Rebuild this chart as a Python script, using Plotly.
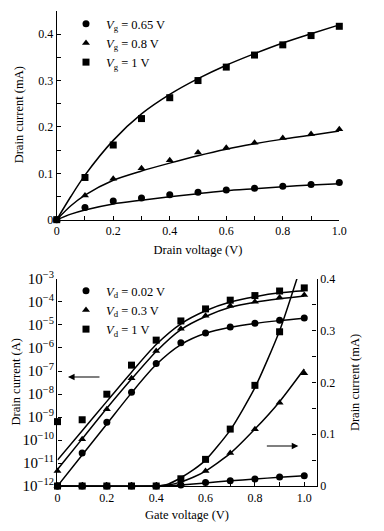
import plotly.graph_objects as go

# ---------------- data: top panel (output characteristics) ----------------
vd = [0, 0.1, 0.2, 0.3, 0.4, 0.5, 0.6, 0.7, 0.8, 0.9, 1.0]
id_vg065 = [0, 0.026, 0.040, 0.047, 0.054, 0.059, 0.064, 0.068, 0.072, 0.076, 0.080]
id_vg08 = [0, 0.052, 0.088, 0.111, 0.128, 0.145, 0.155, 0.166, 0.176, 0.185, 0.195]
id_vg1 = [0, 0.091, 0.161, 0.218, 0.263, 0.300, 0.329, 0.355, 0.377, 0.397, 0.417]

fit_vd = [0, 0.05, 0.1, 0.2, 0.3, 0.4, 0.5, 0.6, 0.7, 0.8, 0.9, 1.0]
fit_vg065 = [0, 0.012, 0.021, 0.034, 0.042, 0.0495, 0.056, 0.0625, 0.0668, 0.071, 0.0747, 0.0775]
fit_vg08 = [0, 0.030, 0.053, 0.085, 0.105, 0.122, 0.138, 0.152, 0.1635, 0.1737, 0.182, 0.191]
fit_vg1 = [0, 0.050, 0.096, 0.171, 0.228, 0.270, 0.304, 0.333, 0.358, 0.381, 0.401, 0.420]

# ---------------- data: bottom panel (transfer characteristics) ----------------
vg = [0, 0.1, 0.2, 0.3, 0.4, 0.5, 0.6, 0.7, 0.8, 0.9, 1.0]
# log scale (A)
log_vd002 = [1e-12, 2.7e-11, 5.9e-10, 1.2e-8, 2.1e-7, 1.7e-6, 4.5e-6, 8.2e-6, 1.2e-5, 1.6e-5, 2.0e-5]
log_vd03 = [4.5e-12, 1.07e-10, 2.2e-9, 4.8e-8, 7.4e-7, 6.9e-6, 2.5e-5, 6.9e-5, 1.03e-4, 1.55e-4, 2.0e-4]
log_vd1 = [6.3e-10, 7.6e-10, 9.8e-9, 1.8e-7, 2.2e-6, 1.5e-5, 5.0e-5, 1.2e-4, 1.9e-4, 3.0e-4, 4.1e-4]
# fitted curves, log10(A)
fitlog_vd002 = [-12.0, -10.65, -9.3, -7.95, -6.72, -5.85, -5.36, -5.1, -4.93, -4.81, -4.71]
fitlog_vd03 = [-11.28, -9.95, -8.62, -7.35, -6.15, -5.2, -4.63, -4.23, -4.01, -3.86, -3.74]
fitlog_vd1 = [-10.87, -9.6, -8.32, -7.05, -5.85, -4.95, -4.38, -4.0, -3.77, -3.6, -3.51]
# linear scale (mA)
lin_vd002 = [0, 0, 0, 0, 0, 0.002, 0.007, 0.010, 0.0135, 0.0174, 0.020]
lin_vd03 = [0, 0, 0, 0, 0, 0.005, 0.029, 0.064, 0.1095, 0.161, 0.218]
lin_vd1 = [0, 0, 0, 0, 0, 0.014, 0.0515, 0.110, 0.1945, 0.298, None]
fit_vg_lin = [0, 0.4, 0.45, 0.5, 0.55, 0.6, 0.7, 0.8, 0.9, 1.0]
fitlin_vd002 = [0, 0, 0.0005, 0.002, 0.004, 0.006, 0.010, 0.0135, 0.017, 0.020]
fitlin_vd03 = [0, 0, 0.002, 0.008, 0.017, 0.029, 0.063, 0.110, 0.163, 0.226]
fitlin_vd1 = [0, 0, 0.004, 0.016, 0.031, 0.050, 0.108, 0.190, 0.300, 0.445]

top_names = ["<i>V</i><sub>g</sub> = 0.65 V", "<i>V</i><sub>g</sub> = 0.8 V", "<i>V</i><sub>g</sub> = 1 V"]
bot_names = ["<i>V</i><sub>d</sub> = 0.02 V", "<i>V</i><sub>d</sub> = 0.3 V", "<i>V</i><sub>d</sub> = 1 V"]
symbols = ["circle", "triangle-up", "square"]

FONT = "Liberation Serif"
BLACK = "#000000"
LW = 1.5
MS = 7

fig = go.Figure()

# ---- top panel ----
for fy in [fit_vg065, fit_vg08, fit_vg1]:
    fig.add_trace(go.Scatter(x=fit_vd, y=fy, mode="lines", line=dict(color=BLACK, width=LW, shape="spline", smoothing=0.8),
                             showlegend=False, hoverinfo="skip", xaxis="x", yaxis="y"))
for yv, nm, sym in zip([id_vg065, id_vg08, id_vg1], top_names, symbols):
    fig.add_trace(go.Scatter(x=vd, y=yv, mode="markers", name=nm, marker=dict(symbol=sym, size=MS, color=BLACK),
                             cliponaxis=False, legend="legend", xaxis="x", yaxis="y"))

# ---- bottom panel, log axis ----
for fy in [fitlog_vd002, fitlog_vd03, fitlog_vd1]:
    fig.add_trace(go.Scatter(x=vg, y=[10 ** v for v in fy], mode="lines",
                             line=dict(color=BLACK, width=LW, shape="spline", smoothing=0.8),
                             showlegend=False, hoverinfo="skip", xaxis="x2", yaxis="y2"))
for yv, nm, sym in zip([log_vd002, log_vd03, log_vd1], bot_names, symbols):
    fig.add_trace(go.Scatter(x=vg, y=yv, mode="markers", name=nm, marker=dict(symbol=sym, size=MS, color=BLACK),
                             cliponaxis=False, legend="legend2", xaxis="x2", yaxis="y2"))

# ---- bottom panel, linear axis ----
for fy in [fitlin_vd002, fitlin_vd03, fitlin_vd1]:
    fig.add_trace(go.Scatter(x=fit_vg_lin, y=fy, mode="lines",
                             line=dict(color=BLACK, width=LW, shape="spline", smoothing=0.6),
                             showlegend=False, hoverinfo="skip", xaxis="x2", yaxis="y3"))
for yv, sym in zip([lin_vd002, lin_vd03, lin_vd1], symbols):
    fig.add_trace(go.Scatter(x=vg, y=yv, mode="markers", marker=dict(symbol=sym, size=MS, color=BLACK),
                             cliponaxis=False, showlegend=False, xaxis="x2", yaxis="y3"))

axis_common = dict(showline=True, linecolor=BLACK, linewidth=1.3, ticks="inside", ticklen=4, tickwidth=1,
                   tickcolor=BLACK, showgrid=False, zeroline=False, automargin=False,
                   tickfont=dict(family=FONT, size=12, color=BLACK),
                   title_font=dict(family=FONT, size=12.5, color=BLACK))
minor_common = dict(ticks="inside", ticklen=4, tickwidth=1, tickcolor=BLACK, showgrid=False)

TOP_DOM = [0.5863, 0.9793]
BOT_DOM = [0.0847, 0.4746]

fig.update_layout(
    width=384, height=531,
    margin=dict(l=0, r=0, t=0, b=0),
    paper_bgcolor="white", plot_bgcolor="white",
    font=dict(family=FONT, size=12, color=BLACK),
    xaxis=dict(domain=[0.1477, 0.8836], range=[0, 1], anchor="y",
               tickvals=[0, 0.2, 0.4, 0.6, 0.8, 1.0], ticktext=["0", "0.2", "0.4", "0.6", "0.8", "1.0"],
               minor=dict(dtick=0.1, **minor_common),
               title=dict(text="Drain voltage (V)", standoff=8), **axis_common),
    yaxis=dict(domain=TOP_DOM, range=[0, 0.45], anchor="x",
               tickvals=[0, 0.1, 0.2, 0.3, 0.4], ticktext=["0", "0.1", "0.2", "0.3", "0.4"],
               minor=dict(dtick=0.05, **minor_common), **axis_common),
    xaxis2=dict(domain=[0.1497, 0.8245], range=[0, 1.05], anchor="y2",
                tickvals=[0, 0.2, 0.4, 0.6, 0.8, 1.0], ticktext=["0", "0.2", "0.4", "0.6", "0.8", "1.0"],
                minor=dict(tickvals=[0.1, 0.3, 0.5, 0.7, 0.9], **minor_common),
                title=dict(text="Gate voltage (V)", standoff=6), **axis_common),
    yaxis2=dict(domain=BOT_DOM, type="log", range=[-12, -3], anchor="x2",
                dtick=1, exponentformat="power", **axis_common),
    yaxis3=dict(overlaying="y2", side="right", anchor="x2", range=[0, 0.4],
                tickvals=[0, 0.1, 0.2, 0.3, 0.4], ticktext=["0", "0.1", "0.2", "0.3", "0.4"],
                minor=dict(dtick=0.05, **minor_common),
                title=dict(text="Drain current (mA)", standoff=16), **axis_common),
    legend=dict(x=66 / 384, y=1 - 9 / 531, xanchor="left", yanchor="top", bgcolor="rgba(0,0,0,0)",
                font=dict(family=FONT, size=12.5, color=BLACK), itemwidth=30, tracegroupgap=0),
    legend2=dict(x=66 / 384, y=1 - 276 / 531, xanchor="left", yanchor="top", bgcolor="rgba(0,0,0,0)",
                 font=dict(family=FONT, size=12.5, color=BLACK), itemwidth=30, tracegroupgap=0),
)

# left-hand axis titles
fig.add_annotation(x=19 / 384, y=sum(TOP_DOM) / 2, xref="paper", yref="paper", text="Drain current (mA)",
                   textangle=-90, showarrow=False, xanchor="center", yanchor="middle",
                   font=dict(family=FONT, size=12.5, color=BLACK))
fig.add_annotation(x=16 / 384, y=sum(BOT_DOM) / 2, xref="paper", yref="paper", text="Drain current (A)",
                   textangle=-90, showarrow=False, xanchor="center", yanchor="middle",
                   font=dict(family=FONT, size=12.5, color=BLACK))

# arrows pointing to the relevant axis
fig.add_annotation(x=0.0425, y=-7.26, xref="x2", yref="y2", text="", showarrow=True,
                   ax=33, ay=0, arrowhead=2, arrowsize=1.1, arrowwidth=1.2, arrowcolor=BLACK)
fig.add_annotation(x=0.976, y=0.0773, xref="x2", yref="y3", text="", showarrow=True,
                   ax=-33, ay=0, arrowhead=2, arrowsize=1.1, arrowwidth=1.2, arrowcolor=BLACK)

fig.write_html("out.html", config={"displayModeBar": False},
               post_script="document.body.style.margin='0px';")
